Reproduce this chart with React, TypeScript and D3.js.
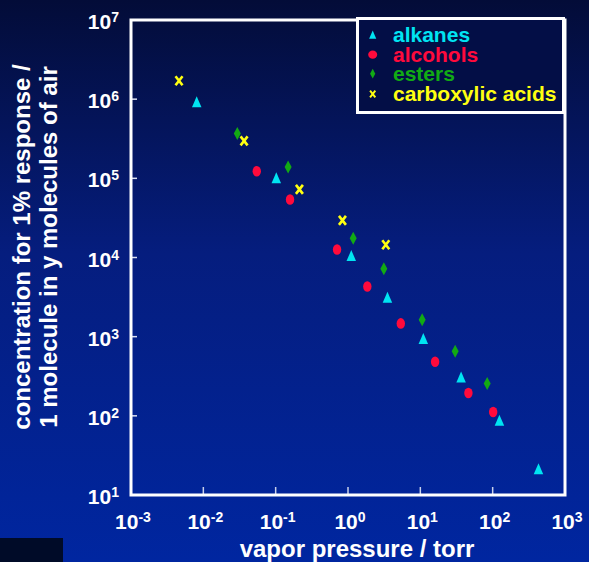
import React, { useEffect, useRef } from 'react';
import * as d3 from 'd3';

// vapor pressure (torr) / concentration (1 molecule in y molecules of air)
const alkanePressure = [0.0081, 0.102, 1.11, 3.51, 11.0, 36.6, 124, 430];
const alkaneConc = [9.25e5, 1.02e5, 1.06e4, 3140, 950, 309, 88, 21.5];

const alcoholPressure = [0.0548, 0.158, 0.706, 1.85, 5.37, 16.0, 46.2, 101.6];
const alcoholConc = [1.23e5, 5.4e4, 1.26e4, 4300, 1470, 483, 194, 112];

const esterPressure = [0.0295, 0.1486, 1.18, 3.13, 10.6, 30.3, 84];
const esterConc = [3.68e5, 1.39e5, 1.75e4, 7200, 1630, 652, 257];

const acidPressure = [0.00461, 0.0366, 0.213, 0.838, 3.33];
const acidConc = [1.71e6, 2.97e5, 7.26e4, 2.94e4, 1.45e4];

const xTickExp = [-3, -2, -1, 0, 1, 2, 3];
const yTickExp = [1, 2, 3, 4, 5, 6, 7];

const legendLabels = ['alkanes', 'alcohols', 'esters', 'carboxylic acids'];
const legendColors = ['#00e4f2', '#ff0a3c', '#12aa14', '#ffff10'];

const FONT = '"Liberation Sans", Arial, sans-serif';

const App = () => {
  const svgRef = useRef<SVGSVGElement>(null);
  const width = 589;
  const height = 562;
  const plot = { left: 131, right: 565, top: 20, bottom: 495 };

  useEffect(() => {
    const svg = d3.select(svgRef.current);
    svg.selectAll('*').remove();

    const defs = svg.append('defs');
    const grad = defs.append('linearGradient')
      .attr('id', 'bg')
      .attr('x1', 0).attr('y1', 0).attr('x2', 0).attr('y2', 1);
    grad.append('stop').attr('offset', '0%').attr('stop-color', '#030c38');
    grad.append('stop').attr('offset', '45%').attr('stop-color', '#051d7e');
    grad.append('stop').attr('offset', '100%').attr('stop-color', '#0026a0');

    svg.append('rect')
      .attr('width', width)
      .attr('height', height)
      .attr('fill', 'url(#bg)');

    svg.append('rect')
      .attr('x', 0).attr('y', 538)
      .attr('width', 63).attr('height', 24)
      .attr('fill', '#000b28');

    const xScale = d3.scaleLog()
      .domain([1e-3, 1e3])
      .range([plot.left, plot.right]);

    const yScale = d3.scaleLog()
      .domain([10, 1e7])
      .range([plot.bottom, plot.top]);

    // ticks
    svg.append('g')
      .selectAll('line')
      .data(xTickExp.slice(1, -1))
      .enter()
      .append('line')
      .attr('x1', d => xScale(Math.pow(10, d)))
      .attr('x2', d => xScale(Math.pow(10, d)))
      .attr('y1', plot.bottom)
      .attr('y2', plot.bottom - 8)
      .attr('stroke', '#c8d0ea')
      .attr('stroke-width', 1.5);

    svg.append('g')
      .selectAll('line')
      .data(yTickExp.slice(1, -1))
      .enter()
      .append('line')
      .attr('x1', plot.left)
      .attr('x2', plot.left + 6)
      .attr('y1', d => yScale(Math.pow(10, d)))
      .attr('y2', d => yScale(Math.pow(10, d)))
      .attr('stroke', '#dde2f2')
      .attr('stroke-width', 1.5);

    // frame
    svg.append('rect')
      .attr('x', plot.left)
      .attr('y', plot.top)
      .attr('width', plot.right - plot.left)
      .attr('height', plot.bottom - plot.top)
      .attr('fill', 'none')
      .attr('stroke', '#ffffff')
      .attr('stroke-width', 3);

    // tick labels
    const xl = svg.append('g')
      .selectAll('text')
      .data(xTickExp)
      .enter()
      .append('text')
      .attr('x', d => xScale(Math.pow(10, d)) + 2)
      .attr('y', 529)
      .attr('text-anchor', 'middle')
      .attr('fill', '#ffffff')
      .style('font-family', FONT)
      .style('font-weight', 'bold')
      .style('font-size', '21px');
    xl.append('tspan').text('10');
    xl.append('tspan')
      .attr('dy', -7)
      .style('font-size', '14px')
      .text(d => (d < 0 ? '-' + Math.abs(d) : String(d)));

    const yl = svg.append('g')
      .selectAll('text')
      .data(yTickExp)
      .enter()
      .append('text')
      .attr('x', 119)
      .attr('y', d => yScale(Math.pow(10, d)) + 9)
      .attr('text-anchor', 'end')
      .attr('fill', '#ffffff')
      .style('font-family', FONT)
      .style('font-weight', 'bold')
      .style('font-size', '21px');
    yl.append('tspan').text('10');
    yl.append('tspan')
      .attr('dy', -7)
      .style('font-size', '14px')
      .text(d => String(d));

    // axis titles
    svg.append('text')
      .attr('x', 357)
      .attr('y', 557)
      .attr('text-anchor', 'middle')
      .attr('fill', '#ffffff')
      .style('font-family', FONT)
      .style('font-weight', 'bold')
      .style('font-size', '24px')
      .text('vapor pressure / torr');

    const yt = svg.append('text')
      .attr('transform', 'rotate(-90)')
      .attr('text-anchor', 'middle')
      .attr('fill', '#ffffff')
      .style('font-family', FONT)
      .style('font-weight', 'bold')
      .style('font-size', '24px');
    yt.append('tspan').attr('x', -247).attr('y', 30).text('concentration for 1% response /');
    yt.append('tspan').attr('x', -247).attr('y', 57).text('1 molecule in y molecules of air');

    // marker shapes
    const drawTriangle = (g: any, s: number) =>
      g.append('path')
        .attr('d', `M0,${-5.5 * s}L${4.75 * s},${5.5 * s}L${-4.75 * s},${5.5 * s}Z`)
        .attr('fill', legendColors[0]);
    const drawEllipse = (g: any, s: number, rx = 4.2, ry = 5.3) =>
      g.append('ellipse')
        .attr('rx', rx * s)
        .attr('ry', ry * s)
        .attr('fill', legendColors[1]);
    const drawDiamond = (g: any, s: number) =>
      g.append('path')
        .attr('d', `M0,${-6.5 * s}L${3.5 * s},0L0,${6.5 * s}L${-3.5 * s},0Z`)
        .attr('fill', legendColors[2]);
    const drawCross = (g: any, s: number) =>
      g.append('path')
        .attr('d', `M${-3.5 * s},${-4.5 * s}L${3.5 * s},${4.5 * s}M${3.5 * s},${-4.5 * s}L${-3.5 * s},${4.5 * s}`)
        .attr('stroke', legendColors[3])
        .attr('stroke-width', 2.6 * s)
        .attr('fill', 'none');

    const series: [number[], number[], (g: any, s: number) => any][] = [
      [alkanePressure, alkaneConc, drawTriangle],
      [alcoholPressure, alcoholConc, drawEllipse],
      [esterPressure, esterConc, drawDiamond],
      [acidPressure, acidConc, drawCross],
    ];

    series.forEach(([xs, ys, draw]) => {
      const pts = xs.map((x, i) => ({ x, y: ys[i] }));
      svg.append('g')
        .selectAll('g')
        .data(pts)
        .enter()
        .append('g')
        .attr('transform', d => `translate(${xScale(d.x)},${yScale(d.y)})`)
        .each(function () {
          draw(d3.select(this), 1);
        });
    });

    // legend
    const legend = svg.append('g');
    legend.append('rect')
      .attr('x', 357.5)
      .attr('y', 18.5)
      .attr('width', 206)
      .attr('height', 94)
      .attr('fill', '#030e46')
      .attr('stroke', '#ffffff')
      .attr('stroke-width', 3);

    const legendDraw = [drawTriangle, (g: any, s: number) => drawEllipse(g, s, 6, 5.5), drawDiamond, drawCross];
    const baselines = [41.7, 61.7, 80.7, 101];
    legendLabels.forEach((label, i) => {
      const mg = legend.append('g')
        .attr('transform', `translate(372.7,${baselines[i] - 7})`);
      legendDraw[i](mg, 0.75);
      legend.append('text')
        .attr('x', 393)
        .attr('y', baselines[i])
        .attr('fill', legendColors[i])
        .style('font-family', FONT)
        .style('font-weight', 'bold')
        .style('font-size', '21px')
        .text(label);
    });
  }, []);

  return (
    <svg
      ref={svgRef}
      width={width}
      height={height}
      style={{ position: 'absolute', left: 0, top: 0, display: 'block' }}
    ></svg>
  );
};

export default App;
